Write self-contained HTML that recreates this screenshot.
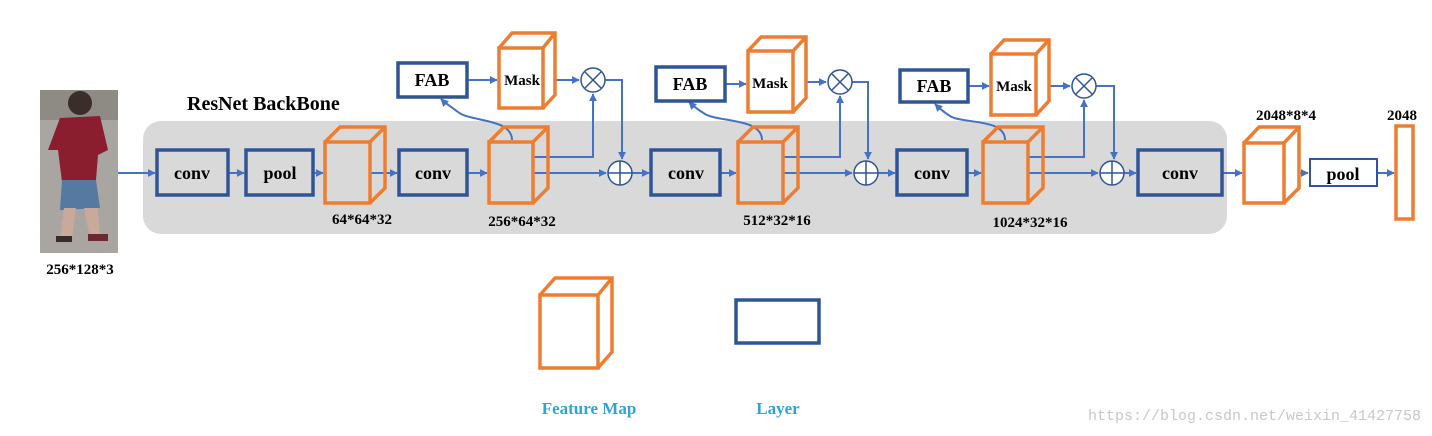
<!DOCTYPE html>
<html><head><meta charset="utf-8"><style>
html,body{margin:0;padding:0;background:#fff}
svg{display:block}
text{font-family:"Liberation Serif",serif;font-weight:bold;fill:#000}
</style></head><body>
<svg width="1432" height="436" viewBox="0 0 1432 436" xmlns="http://www.w3.org/2000/svg">
<defs>
<marker id="a" viewBox="0 0 10 10" refX="9" refY="5" markerWidth="4" markerHeight="4" orient="auto"><path d="M0,0 L10,5 L0,10 z" fill="#4472c4"/></marker>
</defs>
<!-- person -->
<rect x="40" y="90" width="78" height="163" fill="#a9a6a2"/>
<rect x="40" y="90" width="78" height="30" fill="#8e8a84"/>
<ellipse cx="80" cy="103" rx="12" ry="12" fill="#3a2e2a"/>
<path d="M60,118 L100,116 L108,150 L98,155 L96,180 L62,182 L58,150 L48,150 Z" fill="#8b1e2e"/>
<path d="M62,180 L96,180 L100,208 L60,210 Z" fill="#5579a0"/>
<path d="M64,208 L76,208 L72,238 L60,240 Z" fill="#c9a99a"/>
<path d="M84,208 L98,208 L100,236 L90,238 Z" fill="#c9a99a"/>
<rect x="56" y="236" width="16" height="6" fill="#3a2a2a"/>
<rect x="88" y="234" width="20" height="7" fill="#6b2a30"/>
<text x="80" y="274" font-size="15" text-anchor="middle">256*128*3</text>

<text x="187" y="110" font-size="20">ResNet BackBone</text>
<rect x="143" y="121" width="1084" height="113" rx="18" fill="#d9d9d9"/>

<g stroke="#4472c4" stroke-width="2" fill="none">
<line x1="118" y1="173" x2="155" y2="173" marker-end="url(#a)"/>
<line x1="228" y1="173" x2="244" y2="173" marker-end="url(#a)"/>
<line x1="313" y1="173" x2="323" y2="173" marker-end="url(#a)"/>
<line x1="370" y1="173" x2="397" y2="173" marker-end="url(#a)"/>
<line x1="467" y1="173" x2="487" y2="173" marker-end="url(#a)"/>
<line x1="533" y1="173" x2="606" y2="173" marker-end="url(#a)"/>
<line x1="632" y1="173" x2="649" y2="173" marker-end="url(#a)"/>
<line x1="720" y1="173" x2="736" y2="173" marker-end="url(#a)"/>
<line x1="783" y1="173" x2="852" y2="173" marker-end="url(#a)"/>
<line x1="878" y1="173" x2="895" y2="173" marker-end="url(#a)"/>
<line x1="967" y1="173" x2="981" y2="173" marker-end="url(#a)"/>
<line x1="1028" y1="173" x2="1098" y2="173" marker-end="url(#a)"/>
<line x1="1124" y1="173" x2="1136" y2="173" marker-end="url(#a)"/>
<line x1="1222" y1="173" x2="1242" y2="173" marker-end="url(#a)"/>
<line x1="1284" y1="173" x2="1308" y2="173" marker-end="url(#a)"/>
<line x1="1377" y1="173" x2="1394" y2="173" marker-end="url(#a)"/>
<polyline points="533,157 593,157 593,94" marker-end="url(#a)"/>
<polyline points="605,80 622,80 622,159" marker-end="url(#a)"/>
<line x1="467" y1="80" x2="497" y2="80" marker-end="url(#a)"/>
<line x1="543" y1="80" x2="579" y2="80" marker-end="url(#a)"/>
<path d="M512,140 C512,118 470,122 458,112 C450,106 444,102 441,99" marker-end="url(#a)"/>
<polyline points="783,157 840,157 840,96" marker-end="url(#a)"/>
<polyline points="852,82 868,82 868,159" marker-end="url(#a)"/>
<line x1="725" y1="84" x2="746" y2="84" marker-end="url(#a)"/>
<line x1="793" y1="82" x2="826" y2="82" marker-end="url(#a)"/>
<path d="M762,140 C762,118 718,122 705,114 C697,109 692,105 689,102" marker-end="url(#a)"/>
<polyline points="1028,157 1084,157 1084,100" marker-end="url(#a)"/>
<polyline points="1096,86 1114,86 1114,159" marker-end="url(#a)"/>
<line x1="968" y1="86" x2="989" y2="86" marker-end="url(#a)"/>
<line x1="1036" y1="86" x2="1070" y2="86" marker-end="url(#a)"/>
<path d="M1005,140 C1005,118 962,124 950,116 C942,111 938,107 935,104" marker-end="url(#a)"/>
</g>

<g stroke="#2f5597" stroke-width="1.5" fill="#fff">
<circle cx="593" cy="80" r="12"/><path d="M585,72 L601,88 M601,72 L585,88"/>
<circle cx="620" cy="173" r="12"/><path d="M608,173 L632,173 M620,161 L620,185"/>
<circle cx="840" cy="82" r="12"/><path d="M832,74 L848,90 M848,74 L832,90"/>
<circle cx="866" cy="173" r="12"/><path d="M854,173 L878,173 M866,161 L866,185"/>
<circle cx="1084" cy="86" r="12"/><path d="M1076,78 L1092,94 M1092,78 L1076,94"/>
<circle cx="1112" cy="173" r="12"/><path d="M1100,173 L1124,173 M1112,161 L1112,185"/>
</g>

<g stroke="#2f5597" stroke-width="3.5" fill="none">
<rect x="157" y="150" width="71" height="45"/>
<rect x="246" y="150" width="67" height="45"/>
<rect x="399" y="150" width="68" height="45"/>
<rect x="651" y="150" width="69" height="45"/>
<rect x="897" y="150" width="70" height="45"/>
<rect x="1138" y="150" width="84" height="45"/>
<rect x="398" y="63" width="69" height="34" fill="#fff"/>
<rect x="656" y="67" width="69" height="34" fill="#fff"/>
<rect x="900" y="70" width="68" height="32" fill="#fff"/>
<rect x="1310" y="159" width="67" height="27" stroke-width="2" fill="#fff"/>
<rect x="736" y="300" width="83" height="43"/>
</g>

<g stroke="#ed7d31" stroke-width="3.5" fill="none" stroke-linejoin="miter">
<path d="M325,142 L340,127 L385,127 L385,188 L370,203 M370,142 L385,127"/><rect x="325" y="142" width="45" height="61"/>
<path d="M489,142 L504,127 L548,127 L548,188 L533,203 M533,142 L548,127"/><rect x="489" y="142" width="44" height="61"/>
<path d="M738,142 L753,127 L798,127 L798,188 L783,203 M783,142 L798,127"/><rect x="738" y="142" width="45" height="61"/>
<path d="M983,142 L998,127 L1043,127 L1043,188 L1028,203 M1028,142 L1043,127"/><rect x="983" y="142" width="45" height="61"/>
<path d="M1244,143 L1259,127 L1299,127 L1299,188 L1284,203 M1284,143 L1299,127" fill="#fff"/><rect x="1244" y="143" width="40" height="60" fill="#fff"/>
<path d="M499,48 L512,33 L555,33 L555,95 L543,108 M543,48 L555,33" fill="#fff"/><rect x="499" y="48" width="44" height="60" fill="#fff"/>
<path d="M748,51 L761,37 L806,37 L806,98 L793,112 M793,51 L806,37" fill="#fff"/><rect x="748" y="51" width="45" height="61" fill="#fff"/>
<path d="M991,54 L1004,40 L1049,40 L1049,101 L1036,115 M1036,54 L1049,40" fill="#fff"/><rect x="991" y="54" width="45" height="61" fill="#fff"/>
<rect x="1396" y="126" width="17" height="93" fill="#fff"/>
<path d="M540,295 L555,278 L612,278 L612,352 L598,368 M598,295 L612,278"/><rect x="540" y="295" width="58" height="73"/>
</g>

<g font-size="18" text-anchor="middle">
<text x="192" y="179">conv</text>
<text x="280" y="179">pool</text>
<text x="433" y="179">conv</text>
<text x="686" y="179">conv</text>
<text x="932" y="179">conv</text>
<text x="1180" y="179">conv</text>
<text x="1343" y="180">pool</text>
<text x="432" y="86">FAB</text>
<text x="690" y="90">FAB</text>
<text x="934" y="92">FAB</text>
</g>
<g font-size="15" text-anchor="middle">
<text x="522" y="85">Mask</text>
<text x="770" y="88">Mask</text>
<text x="1014" y="91">Mask</text>
<text x="362" y="224">64*64*32</text>
<text x="522" y="226">256*64*32</text>
<text x="777" y="225">512*32*16</text>
<text x="1030" y="227">1024*32*16</text>
<text x="1286" y="120">2048*8*4</text>
<text x="1402" y="120">2048</text>
</g>
<text x="589" y="414" font-size="17" text-anchor="middle" style="fill:#2ea3dc">Feature Map</text>
<text x="778" y="414" font-size="17" text-anchor="middle" style="fill:#2ea3dc">Layer</text>
<text x="1421" y="420" font-size="15" text-anchor="end" style="font-family:'Liberation Mono',monospace;font-weight:normal;fill:#c8c8c8">https://blog.csdn.net/weixin_41427758</text>
</svg>
</body></html>
